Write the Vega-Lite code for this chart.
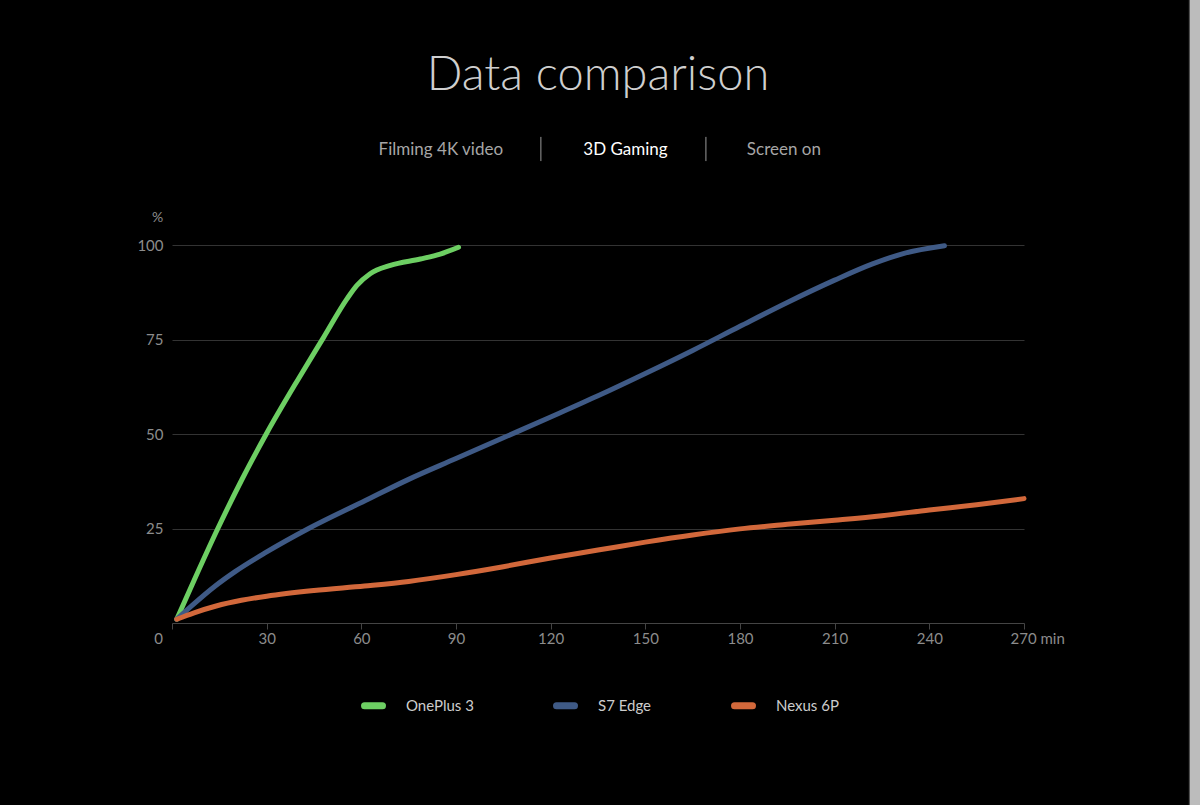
{
  "$schema": "https://vega.github.io/schema/vega-lite/v6.json",
  "width": 852,
  "height": 378,
  "autosize": {"type": "none"},
  "padding": {"left": 172, "top": 245, "right": 176, "bottom": 182},
  "background": "#000000",
  "title": {
    "text": "Data comparison",
    "font": "Lato",
    "fontWeight": 300,
    "fontSize": 47,
    "color": "#cfcfcf",
    "anchor": "middle",
    "offset": -101
  },
  "config": {
    "view": {"stroke": null},
    "font": "Lato"
  },
  "datasets": {
    "battery": [
      {"device": "OnePlus 3", "t": 1.5, "pct": 1},
      {"device": "OnePlus 3", "t": 6.3, "pct": 10},
      {"device": "OnePlus 3", "t": 14.3, "pct": 24.6},
      {"device": "OnePlus 3", "t": 22, "pct": 37.7},
      {"device": "OnePlus 3", "t": 30, "pct": 50.2},
      {"device": "OnePlus 3", "t": 40, "pct": 64.5},
      {"device": "OnePlus 3", "t": 48, "pct": 75.5},
      {"device": "OnePlus 3", "t": 55.5, "pct": 85.8},
      {"device": "OnePlus 3", "t": 58.6, "pct": 89.3},
      {"device": "OnePlus 3", "t": 62.8, "pct": 92.4},
      {"device": "OnePlus 3", "t": 69.2, "pct": 94.6},
      {"device": "OnePlus 3", "t": 78.7, "pct": 96.3},
      {"device": "OnePlus 3", "t": 85, "pct": 97.6},
      {"device": "OnePlus 3", "t": 90.8, "pct": 99.4},
      {"device": "S7 Edge", "t": 1.5, "pct": 1},
      {"device": "S7 Edge", "t": 6.3, "pct": 4.6},
      {"device": "S7 Edge", "t": 13.7, "pct": 9.8},
      {"device": "S7 Edge", "t": 20, "pct": 13.6},
      {"device": "S7 Edge", "t": 29.6, "pct": 18.6},
      {"device": "S7 Edge", "t": 43.3, "pct": 25},
      {"device": "S7 Edge", "t": 61.3, "pct": 32.4},
      {"device": "S7 Edge", "t": 75, "pct": 38},
      {"device": "S7 Edge", "t": 90, "pct": 43.5},
      {"device": "S7 Edge", "t": 105, "pct": 49},
      {"device": "S7 Edge", "t": 120, "pct": 54.5},
      {"device": "S7 Edge", "t": 135, "pct": 60.1},
      {"device": "S7 Edge", "t": 150, "pct": 66},
      {"device": "S7 Edge", "t": 165, "pct": 72.1},
      {"device": "S7 Edge", "t": 180, "pct": 78.5},
      {"device": "S7 Edge", "t": 195, "pct": 84.8},
      {"device": "S7 Edge", "t": 210, "pct": 90.7},
      {"device": "S7 Edge", "t": 222, "pct": 95},
      {"device": "S7 Edge", "t": 232, "pct": 97.8},
      {"device": "S7 Edge", "t": 244.8, "pct": 99.8},
      {"device": "Nexus 6P", "t": 1.5, "pct": 1},
      {"device": "Nexus 6P", "t": 7, "pct": 2.7},
      {"device": "Nexus 6P", "t": 14, "pct": 4.5},
      {"device": "Nexus 6P", "t": 22, "pct": 6},
      {"device": "Nexus 6P", "t": 30, "pct": 7.1},
      {"device": "Nexus 6P", "t": 45, "pct": 8.6},
      {"device": "Nexus 6P", "t": 61, "pct": 9.8},
      {"device": "Nexus 6P", "t": 75, "pct": 11},
      {"device": "Nexus 6P", "t": 90, "pct": 12.8},
      {"device": "Nexus 6P", "t": 105, "pct": 14.9},
      {"device": "Nexus 6P", "t": 120, "pct": 17.2},
      {"device": "Nexus 6P", "t": 135, "pct": 19.3},
      {"device": "Nexus 6P", "t": 150, "pct": 21.4},
      {"device": "Nexus 6P", "t": 165, "pct": 23.3},
      {"device": "Nexus 6P", "t": 180, "pct": 24.9},
      {"device": "Nexus 6P", "t": 195, "pct": 26.1},
      {"device": "Nexus 6P", "t": 210, "pct": 27.2},
      {"device": "Nexus 6P", "t": 225, "pct": 28.4},
      {"device": "Nexus 6P", "t": 240, "pct": 29.9},
      {"device": "Nexus 6P", "t": 255, "pct": 31.3},
      {"device": "Nexus 6P", "t": 270, "pct": 32.9}
    ]
  },
  "layer": [
    {
      "data": {"name": "battery"},
      "mark": {"type": "line", "strokeWidth": 5, "strokeCap": "round", "strokeJoin": "round", "interpolate": "monotone"},
      "encoding": {
        "x": {
          "field": "t", "type": "quantitative",
          "scale": {"domain": [0, 270], "nice": false, "zero": false},
          "axis": {
            "values": [0, 30, 60, 90, 120, 150, 180, 210, 240, 270],
            "title": null,
            "grid": false,
            "domainColor": "#444444",
            "tickColor": "#444444",
            "tickSize": 6,
            "labelColor": "#8c8c8c",
            "labelFont": "Lato",
            "labelFontSize": 15,
            "labelPadding": 2,
            "labelExpr": "datum.value == 270 ? '270 min' : datum.label",
            "labelAlign": {"condition": {"test": "datum.value == 270", "value": "left"}, "value": "center"},
            "labelOffset": {"condition": {"test": "datum.value == 270 || datum.value == 0", "value": -14}, "value": 0}
          }
        },
        "y": {
          "field": "pct", "type": "quantitative",
          "scale": {"domain": [0, 100], "nice": false},
          "axis": {
            "values": [25, 50, 75, 100],
            "title": "%",
            "titleAngle": 0,
            "titleX": -15,
            "titleY": -28,
            "titleAlign": "center",
            "titleBaseline": "middle",
            "titleColor": "#8c8c8c",
            "titleFont": "Lato",
            "titleFontSize": 14,
            "titleFontWeight": "normal",
            "domain": false,
            "ticks": false,
            "grid": true,
            "gridColor": "#333333",
            "gridWidth": 1,
            "labelColor": "#8c8c8c",
            "labelFont": "Lato",
            "labelFontSize": 15,
            "labelPadding": 9
          }
        },
        "color": {
          "field": "device", "type": "nominal",
          "scale": {"domain": ["OnePlus 3", "S7 Edge", "Nexus 6P"], "range": ["#6dcf63", "#3f5a86", "#d2683b"]},
          "legend": {
            "title": null,
            "orient": "none",
            "direction": "horizontal",
            "legendX": 189,
            "legendY": 448,
            "padding": 0,
            "symbolType": "stroke",
            "symbolSize": 324,
            "symbolStrokeWidth": 7,
            "labelFont": "Lato",
            "labelFontSize": 15,
            "labelColor": "#cccccc",
            "labelOffset": 20,
            "columnPadding": 68,
            "encode": {"symbols": {"update": {"strokeCap": {"value": "round"}}}}
          }
        }
      }
    },
    {
      "data": {"values": [{}]},
      "mark": {"type": "text", "font": "Lato", "fontSize": 17, "fontWeight": 400, "color": "#a6a6a6", "baseline": "alphabetic", "align": "center"},
      "encoding": {
        "x": {"datum": 85.2, "type": "quantitative", "scale": {"domain": [0, 270]}},
        "y": {"datum": 123.8, "type": "quantitative", "scale": {"domain": [0, 100]}},
        "text": {"value": "Filming 4K video"}
      }
    },
    {
      "data": {"values": [{}]},
      "mark": {"type": "text", "font": "Lato", "fontSize": 17, "fontWeight": 400, "color": "#ffffff", "baseline": "alphabetic", "align": "center"},
      "encoding": {
        "x": {"datum": 143.7, "type": "quantitative", "scale": {"domain": [0, 270]}},
        "y": {"datum": 123.8, "type": "quantitative", "scale": {"domain": [0, 100]}},
        "text": {"value": "3D Gaming"}
      }
    },
    {
      "data": {"values": [{}]},
      "mark": {"type": "text", "font": "Lato", "fontSize": 17, "fontWeight": 400, "color": "#a6a6a6", "baseline": "alphabetic", "align": "center"},
      "encoding": {
        "x": {"datum": 193.9, "type": "quantitative", "scale": {"domain": [0, 270]}},
        "y": {"datum": 123.8, "type": "quantitative", "scale": {"domain": [0, 100]}},
        "text": {"value": "Screen on"}
      }
    },
    {
      "data": {"values": [{}]},
      "mark": {"type": "rule", "color": "#9a9a9a", "strokeWidth": 1},
      "encoding": {
        "x": {"datum": 116.9, "type": "quantitative", "scale": {"domain": [0, 270]}},
        "y": {"datum": 122.2, "type": "quantitative", "scale": {"domain": [0, 100]}},
        "y2": {"datum": 128.6}
      }
    },
    {
      "data": {"values": [{}]},
      "mark": {"type": "rule", "color": "#9a9a9a", "strokeWidth": 1},
      "encoding": {
        "x": {"datum": 169.2, "type": "quantitative", "scale": {"domain": [0, 270]}},
        "y": {"datum": 122.2, "type": "quantitative", "scale": {"domain": [0, 100]}},
        "y2": {"datum": 128.6}
      }
    },
    {
      "data": {"values": [{}]},
      "mark": {"type": "rect", "color": "#bcbcbc"},
      "encoding": {
        "x": {"datum": 322.5, "type": "quantitative", "scale": {"domain": [0, 270]}},
        "x2": {"datum": 330},
        "y": {"datum": -60, "type": "quantitative", "scale": {"domain": [0, 100]}},
        "y2": {"datum": 165}
      }
    },
    {
      "data": {"values": [{}]},
      "mark": {"type": "rule", "color": "#555555", "strokeWidth": 1},
      "encoding": {
        "x": {"datum": 322.4, "type": "quantitative", "scale": {"domain": [0, 270]}},
        "y": {"datum": -60, "type": "quantitative", "scale": {"domain": [0, 100]}},
        "y2": {"datum": 165}
      }
    }
  ]
}
